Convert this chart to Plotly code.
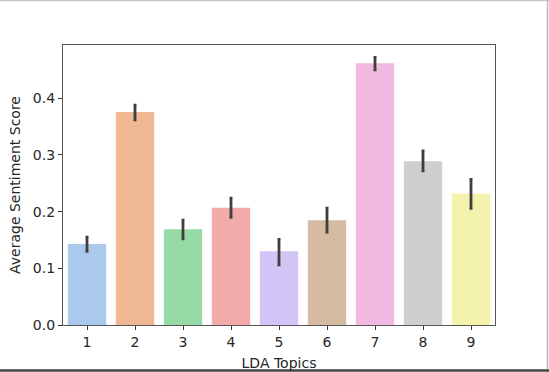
import colorsys
import plotly.graph_objects as go

topics = ["1", "2", "3", "4", "5", "6", "7", "8", "9"]
mean_score = [0.143, 0.376, 0.169, 0.207, 0.130, 0.185, 0.462, 0.289, 0.232]
ci_upper = [0.155, 0.388, 0.185, 0.224, 0.151, 0.206, 0.472, 0.307, 0.257]
ci_lower = [0.130, 0.362, 0.152, 0.190, 0.106, 0.164, 0.450, 0.272, 0.206]
yticks = [0.0, 0.1, 0.2, 0.3, 0.4]

pastel = ["#a1c9f4", "#ffb482", "#8de5a1", "#ff9f9b", "#d0bbff",
          "#debb9b", "#fab0e4", "#cfcfcf", "#fffea3"]


def desaturate(hx, prop=0.75):
    r, g, b = (int(hx[i:i + 2], 16) / 255 for i in (1, 3, 5))
    h, l, s = colorsys.rgb_to_hls(r, g, b)
    r, g, b = colorsys.hls_to_rgb(h, l, s * prop)
    return "#%02x%02x%02x" % (round(r * 255), round(g * 255), round(b * 255))


colors = [desaturate(c) for c in pastel]
err_plus = [u - m for u, m in zip(ci_upper, mean_score)]
err_minus = [m - l for m, l in zip(mean_score, ci_lower)]

fig = go.Figure(go.Bar(
    x=topics, y=mean_score,
    marker=dict(color=colors, line=dict(width=0)),
    width=0.8,
    error_y=dict(type="data", symmetric=False, array=err_plus, arrayminus=err_minus,
                 color="#3f3f3f", thickness=2.8, width=1.5),
))

font = dict(family="DejaVu Sans", size=14, color="#262626")
fig.update_layout(
    width=549, height=372,
    margin=dict(l=63, r=54, t=45, b=47, autoexpand=False),
    paper_bgcolor="white", plot_bgcolor="white",
    showlegend=False, bargap=0.2,
    font=font,
    xaxis=dict(
        type="category", range=[-0.5, 8.5], automargin=False,
        showline=True, linecolor="#555555", linewidth=1.2, mirror=True,
        ticks="outside", ticklen=4, tickcolor="#333333", tickwidth=1,
        showgrid=False, zeroline=False,
        title=dict(text="LDA Topics", font=font, standoff=9),
    ),
    yaxis=dict(
        range=[0, 0.494], automargin=False,
        tickvals=yticks, ticktext=["%.1f" % v for v in yticks],
        showline=True, linecolor="#555555", linewidth=1.2, mirror=True,
        ticks="outside", ticklen=4, tickcolor="#333333", tickwidth=1,
        showgrid=False, zeroline=False,
        title=dict(text="Average Sentiment Score", font=font, standoff=8),
    ),
    shapes=[
        dict(type="line", xref="paper", yref="paper", x0=-0.2, x1=1.2, y0=1.159, y1=1.159,
             line=dict(color="#c8c8c8", width=1.5)),
        dict(type="line", xref="paper", yref="paper", x0=1.1215, x1=1.1215, y0=-0.2, y1=1.2,
             line=dict(color="#b8b8b8", width=1.5)),
        dict(type="line", xref="paper", yref="paper", x0=-0.2, x1=1.2, y0=-0.1625, y1=-0.1625,
             line=dict(color="#444444", width=2.5)),
    ],
)

fig.write_html("out.html", config={"displayModeBar": False},
               post_script="document.body.style.margin='0';document.body.style.overflow='hidden';")
